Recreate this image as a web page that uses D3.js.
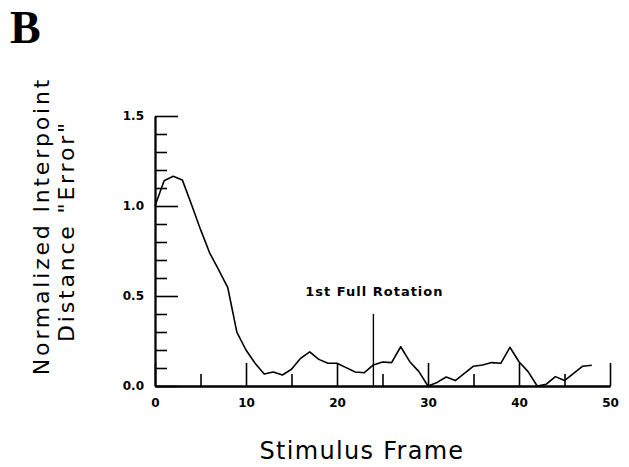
<!DOCTYPE html>
<html><head><meta charset="utf-8">
<script src="https://cdn.jsdelivr.net/npm/d3@7"></script>
<style>body{margin:0;background:#fff}svg{display:block}</style>
</head><body>
<svg id="c" width="629" height="467"></svg>
<script>
const frames = [0,1,2,3,4,5,6,7,8,9,10,11,12,13,14,15,16,17,18,19,20,21,22,23,24,25,26,27,28,29,30,31,32,33,34,35,36,37,38,39,40,41,42,43,44,45,46,47,48];
const errorValues = [1.0,1.14,1.165,1.145,1.01,0.87,0.74,0.645,0.546,0.298,0.2,0.126,0.067,0.078,0.061,0.093,0.154,0.19,0.148,0.126,0.126,0.102,0.078,0.074,0.117,0.133,0.13,0.218,0.135,0.08,0.0,0.02,0.05,0.03,0.07,0.11,0.117,0.13,0.126,0.215,0.135,0.08,0.0,0.01,0.052,0.03,0.07,0.11,0.115];
const xMajorTicks = [0,10,20,30,40,50];
const xMinorTicks = [5,15,25,35,45];
const yMajorTicks = [0,0.5,1.0,1.5];
const yMinorTicks = [0.1,0.2,0.3,0.4,0.6,0.7,0.8,0.9,1.1,1.2,1.3,1.4];
const rotationFrame = 24;
const rotationMarkTop = 0.4;
const rotationLabel = "1st Full Rotation";
const xTitle = "Stimulus Frame";
const yTitleLines = ["Normalized Interpoint", "Distance \"Error\""];
const panelLetter = "B";

const svg = d3.select("#c");
const x = d3.scaleLinear().domain([0,50]).range([155,610]);
const y = d3.scaleLinear().domain([0,1.5]).range([386,116]);

function styleAxis(g){
  g.selectAll("path.domain").attr("stroke","#000").attr("stroke-width",1.8);
  g.selectAll(".tick line").attr("stroke","#000").attr("stroke-width",1.6);
  g.selectAll("text").attr("fill","#000").style("font-family","DejaVu Sans, sans-serif")
    .style("font-weight","bold").style("font-size","12px");
}

// y axis minor
svg.append("g").attr("transform",`translate(${x(0)},0)`)
  .call(d3.axisLeft(y).tickValues(yMinorTicks).tickSizeInner(-12).tickSizeOuter(0).tickFormat(""))
  .call(styleAxis);
// y axis major
svg.append("g").attr("transform",`translate(${x(0)},0)`)
  .call(d3.axisLeft(y).tickValues(yMajorTicks).tickSizeInner(-23).tickSizeOuter(0).tickPadding(11).tickFormat(d3.format(".1f")))
  .call(styleAxis);
// x axis minor
svg.append("g").attr("transform",`translate(0,${y(0)})`)
  .call(d3.axisBottom(x).tickValues(xMinorTicks).tickSizeInner(-12).tickSizeOuter(0).tickFormat(""))
  .call(styleAxis);
// x axis major
svg.append("g").attr("transform",`translate(0,${y(0)})`)
  .call(d3.axisBottom(x).tickValues(xMajorTicks).tickSizeInner(-23).tickSizeOuter(0).tickPadding(12).tickFormat(d3.format("d")))
  .call(styleAxis);

// data line
const data = frames.map((f,i)=>({f, v:errorValues[i]}));
svg.append("path").datum(data)
  .attr("fill","none").attr("stroke","#000").attr("stroke-width",1.6).attr("stroke-linejoin","round")
  .attr("d", d3.line().x(d=>x(d.f)).y(d=>y(d.v)));

// rotation marker
svg.append("line")
  .attr("x1",x(rotationFrame)).attr("x2",x(rotationFrame))
  .attr("y1",y(rotationMarkTop)).attr("y2",y(0))
  .attr("stroke","#000").attr("stroke-width",1.4);
svg.append("text").attr("x",x(rotationFrame)+1).attr("y",y(0.5))
  .attr("text-anchor","middle")
  .style("font-family","DejaVu Sans, sans-serif").style("font-weight","bold")
  .style("font-size","13px").style("letter-spacing","1px")
  .text(rotationLabel);

// axis titles
svg.append("text").attr("x",362).attr("y",459).attr("text-anchor","middle")
  .style("font-family","DejaVu Sans, sans-serif").style("font-size","24px").style("letter-spacing","1.3px")
  .text(xTitle);

const yt = svg.append("g").attr("transform","translate(0,226) rotate(-90)");
yt.append("text").attr("x",0).attr("y",49).attr("text-anchor","middle")
  .style("font-family","DejaVu Sans, sans-serif").style("font-size","22px").style("letter-spacing","2.8px")
  .text(yTitleLines[0]);
yt.append("text").attr("x",-5).attr("y",74).attr("text-anchor","middle")
  .style("font-family","DejaVu Sans, sans-serif").style("font-size","22px").style("letter-spacing","2.8px")
  .text(yTitleLines[1]);

svg.append("text").attr("x",10).attr("y",43)
  .style("font-family","Liberation Serif, serif").style("font-weight","bold").style("font-size","46px")
  .text(panelLetter);
</script>
</body></html>
